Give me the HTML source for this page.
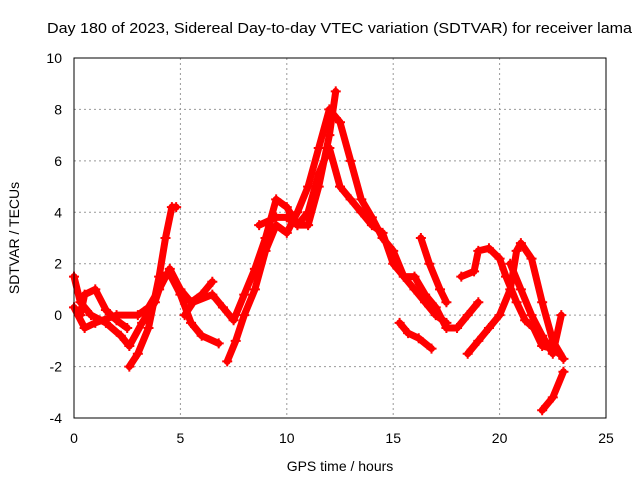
<!DOCTYPE html>
<html><head><meta charset="utf-8"><style>
body{margin:0;background:#fff}
svg{display:block;font-family:"Liberation Sans",sans-serif}
</style></head><body>
<svg id="chart" width="640" height="480" viewBox="0 0 640 480">
<rect width="640" height="480" fill="#fff"/>
<g id="grid"></g>
<g id="series"></g>
<rect x="74" y="58" width="532" height="360" fill="none" stroke="#000" stroke-width="1"/>
<g id="ticks"></g>
<text x="47" y="33" font-size="15" textLength="585" lengthAdjust="spacingAndGlyphs">Day 180 of 2023, Sidereal Day-to-day VTEC variation (SDTVAR) for receiver lama</text>
<text x="340" y="471" font-size="14" text-anchor="middle">GPS time / hours</text>
<text x="19" y="238" font-size="14" text-anchor="middle" transform="rotate(-90 19 238)">SDTVAR / TECUs</text>
</svg>
<script>
const xTicks=[0,5,10,15,20,25];
const yTicks=[-4,-2,0,2,4,6,8,10];
const track1=[[0,1.5],[0.3,0.5],[0.8,0],[1.5,-0.3],[2.2,-0.8],[2.6,-1.2],[3.2,-0.3],[3.8,0.5],[4.2,1.5],[4.5,1.6],[5,0.8],[5.5,-0.3],[6,-0.8],[6.8,-1.1]];
const track2=[[0,0.3],[0.5,-0.5],[1,-0.3],[2,0],[3,0],[3.5,0.3],[4,1],[4.5,1.8],[5,1],[5.5,0.5],[6,0.8],[6.5,1.3]];
const track3=[[2.6,-2],[3,-1.5],[3.5,-0.5],[4,1.5],[4.3,3],[4.6,4.2],[4.8,4.2]];
const track4=[[5.2,0],[5.6,0.5],[6.5,0.8],[7,0.3],[7.5,-0.2],[8,0.8],[8.5,1.8],[9,3],[9.5,4.5],[10,4.2],[10.5,3.5],[11,3.5],[11.5,5],[12,7],[12.3,8.7]];
const track5=[[7.2,-1.8],[7.6,-1],[8,0],[8.5,1],[9,2.5],[9.5,3.5],[10,3.2],[10.5,4],[11,5],[11.5,6.5],[12,8],[12.5,7.5],[13,6],[13.5,4.5],[14,3.8],[14.5,3],[15,2.5],[15.5,1.5],[16,1.5],[16.5,0.8],[17,0.3],[17.5,-0.5],[18,-0.5],[18.5,0],[19,0.5]];
const track6=[[8.7,3.5],[9.5,3.8],[10,3.8],[10.5,3.5],[11,4],[11.5,5.5],[12,6.5],[12.5,5],[13,4.5],[13.5,4],[14,3.5],[14.5,3.2],[15,2],[15.5,1.5],[16,1],[16.5,0.5],[17,0],[17.5,-0.3]];
const track7=[[15.3,-0.3],[15.7,-0.7],[16.2,-0.9],[16.8,-1.3]];
const track8=[[16.3,3],[16.7,2],[17.2,1],[17.5,0.5]];
const track9=[[18.2,1.5],[18.8,1.7],[19,2.5],[19.5,2.6],[20,2.2],[20.3,1.5],[20.8,0.5],[21.2,-0.2],[21.6,-0.5],[22,-1.2],[22.5,-1.3],[22.8,-1.5]];
const track10=[[18.5,-1.5],[19,-1],[19.5,-0.5],[20,0],[20.5,1],[20.8,2.5],[21,2.8],[21.5,2.2],[22,0.5],[22.5,-1],[23,-1.7]];
const track11=[[20.5,2],[21,1],[21.5,0],[22,-0.8],[22.5,-1.5],[22.9,0]];
const track12=[[22,-3.7],[22.5,-3.2],[23,-2.2]];
const track13=[[0.3,0],[0.5,0.8],[1,1],[1.5,0.2],[2,-0.2],[2.5,-0.5]];
const tracks=[track1,track2,track3,track4,track5,track6,track7,track8,track9,track10,track11,track12,track13];

const NS="http://www.w3.org/2000/svg";
const X=v=>74+v*532/25, Y=v=>418-(v+4)*360/14;
const grid=document.getElementById('grid'),ticks=document.getElementById('ticks'),ser=document.getElementById('series');
function mk(tag,attrs,parent){const e=document.createElementNS(NS,tag);for(const k in attrs)e.setAttribute(k,attrs[k]);parent.appendChild(e);return e;}
xTicks.forEach(t=>{
  if(t>0&&t<25){const g=mk('line',{x1:X(t),x2:X(t),y1:58,y2:418,stroke:'#999','stroke-dasharray':'2,3'},grid);
  
  }
  const l=mk('text',{x:X(t),y:443,'font-size':14,'text-anchor':'middle'},ticks);l.textContent=t;
  
  
});
yTicks.forEach(t=>{
  if(t>-4&&t<10){const g=mk('line',{x1:74,x2:606,y1:Y(t),y2:Y(t),stroke:'#999','stroke-dasharray':'2,3'},grid);
  
  }
  const l=mk('text',{x:62,y:Y(t)+5,'font-size':14,'text-anchor':'end'},ticks);l.textContent=t;
  
  
});
tracks.forEach(tr=>{
  const p=mk('polyline',{points:tr.map(d=>X(d[0])+','+Y(d[1])).join(' '),fill:'none',stroke:'#ff0000','stroke-width':7,'stroke-linejoin':'round','stroke-linecap':'round'},ser);
  
  
  tr.forEach(d=>{
    const m=mk('path',{d:`M${X(d[0])-5},${Y(d[1])}h10M${X(d[0])},${Y(d[1])-5}v10`,stroke:'#ff0000','stroke-width':2},ser);
    
    
  });
});
</script>
</body></html>
